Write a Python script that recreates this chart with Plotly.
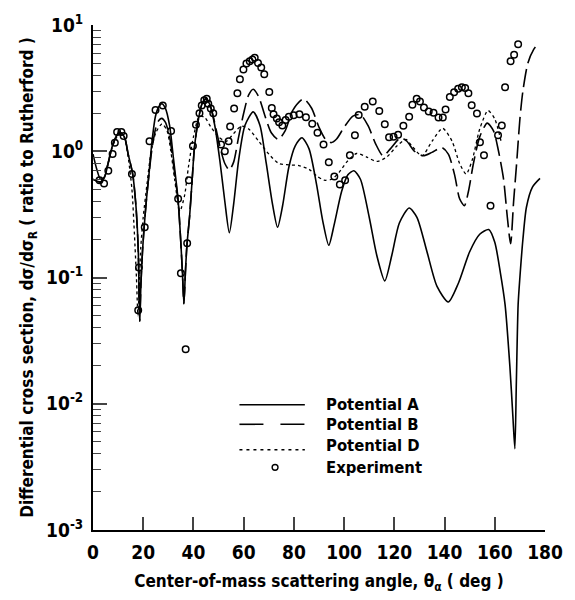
import plotly.graph_objects as go

# ---------------- data ----------------
theta_A = [0, 1.5, 3, 4.5, 6, 8, 10.5, 12.5, 14, 15.8, 17.1, 18.0, 18.6, 19.1, 19.7, 20.3, 21.3, 22.3,
           23.5, 24.9, 26.2, 27.4, 28.8, 30.5, 32, 33.9, 34.9, 35.6, 36.2, 36.8, 37.4, 38.5, 39.5, 40.4,
           42, 43.5, 45, 46.5, 48.5, 50.5, 52.5, 54.3, 56, 58, 60.5, 63.8, 66.5, 69, 71.5, 73.5, 75.5,
           78, 80.5, 83.2, 86, 89, 91.5, 93.9, 96, 99, 101.5, 103.9, 106.5, 110, 113, 116.2, 119, 122,
           125.9, 129, 133, 137, 141.5, 145.5, 150, 154, 157.6, 160, 162.2, 164.1, 166, 167.2, 168,
           168.6, 169.3, 170, 171.2, 172.6, 175, 178]
sigma_A = [0.95, 0.72, 0.6, 0.62, 0.8, 1.15, 1.42, 1.3, 0.95, 0.66, 0.37, 0.17, 0.045, 0.09, 0.16, 0.24, 0.42, 0.66,
           1.2, 1.9, 2.25, 2.38, 2.2, 1.6, 0.89, 0.41, 0.2, 0.11, 0.062, 0.11, 0.18, 0.31, 0.6, 1.07,
           1.8, 2.4, 2.6, 2.35, 1.6, 0.85, 0.4, 0.226, 0.38, 0.85, 1.6, 2.05, 1.6, 0.8, 0.38, 0.25, 0.37,
           0.75, 1.1, 1.28, 1.05, 0.55, 0.28, 0.18, 0.26, 0.48, 0.65, 0.70, 0.6, 0.3, 0.15, 0.094, 0.15, 0.27,
           0.355, 0.3, 0.16, 0.085, 0.064, 0.09, 0.16, 0.22, 0.24, 0.19, 0.11, 0.061, 0.02, 0.008, 0.0044,
           0.015, 0.061, 0.1, 0.2, 0.36, 0.52, 0.61]

theta_B = [0, 1.5, 3, 4.5, 6, 8, 10.5, 12.5, 14, 15.8, 17.1, 18.0, 18.6, 19.1, 19.7, 20.3, 21.3, 22.3,
           23.5, 24.9, 26.2, 27.4, 28.8, 30.5, 32, 33.9, 34.9, 35.6, 36.2, 36.8, 37.4, 38.5, 39.5, 40.4,
           42, 43.5, 45, 47, 49, 51, 52.5, 54.3, 56, 58, 60, 62, 63.8, 66, 68.5, 71, 73.8, 76.5, 79.5,
           83.8, 87, 90, 92.5, 94.8, 97, 100, 103.5, 106.5, 109.5, 112.5, 115.5, 118.5, 122.5, 125, 128,
           131.5, 135, 138.9, 141.5, 144, 146, 147.9, 149.5, 151.5, 154, 157, 159.5, 161.5, 163.5, 165,
           166.3, 167.5, 168.7, 170, 171.2, 173.2, 175.5, 177.7]
sigma_B = [0.6, 0.58, 0.57, 0.62, 0.8, 1.15, 1.42, 1.3, 0.95, 0.66, 0.37, 0.17, 0.045, 0.09, 0.16, 0.24, 0.42, 0.66,
           1.05, 1.5, 1.75, 1.82, 1.7, 1.3, 0.8, 0.4, 0.2, 0.11, 0.062, 0.11, 0.18, 0.31, 0.6, 1.07,
           1.8, 2.4, 2.6, 2.2, 1.5, 1.0, 0.8, 0.71, 0.82, 1.3, 2.0, 2.8, 3.1, 2.7, 1.9, 1.4, 1.24, 1.45, 2.1,
           2.6, 2.2, 1.55, 1.25, 1.17, 1.25, 1.55, 1.9, 1.95, 1.6, 1.15, 0.92, 1.05, 1.28, 1.2, 1.0,
           0.92, 0.98, 1.07, 0.95, 0.65, 0.42, 0.37, 0.48, 0.8, 1.3, 1.67, 1.45, 1.0, 0.6, 0.3,
           0.185, 0.4, 0.8, 1.8, 3.0, 5.0, 6.4, 7.3]

theta_D = [0, 1.5, 3, 4.5, 6, 8, 10.5, 12.5, 14, 15.5, 16.5, 17.3, 17.9, 18.4, 19, 20, 21.5, 23, 25,
           27.5, 29.5, 31, 32.5, 34.6, 36.5, 38, 40, 42.4, 44.5, 47, 50, 53, 56, 59, 62, 66, 70, 74,
           78, 82, 86, 89, 92, 95, 98, 101, 105, 109, 113, 117, 121, 124.6, 127, 131, 135, 139.2,
           143, 146, 148.6, 151, 154, 157.3, 160, 162.5]
sigma_D = [0.6, 0.58, 0.57, 0.62, 0.8, 1.12, 1.38, 1.28, 0.9, 0.5, 0.22, 0.1, 0.05, 0.08, 0.17, 0.3, 0.55, 0.95, 1.4,
           1.65, 1.45, 1.0, 0.6, 0.335, 0.45, 0.75, 1.3, 1.9, 1.85, 1.55, 1.3, 1.2, 1.38, 1.58, 1.5, 1.2, 0.95, 0.8,
           0.78, 0.77, 0.72, 0.64, 0.59, 0.6, 0.68, 0.82, 0.96, 0.9, 0.83, 0.9, 1.1, 1.24, 1.1, 0.92, 1.2, 1.52,
           1.2, 0.8, 0.66, 0.85, 1.5, 2.1, 1.8, 1.2]

theta_exp = [2.6, 4.4, 6.1, 7.8, 8.7, 9.6, 11.3, 12.2, 15.5, 18.0, 18.3, 20.6, 22.5, 24.9, 27.8, 31.1, 33.9,
             35.0, 36.9, 37.5, 38.2, 39.8, 41.0, 42.4, 43.3, 44.3, 45.3, 45.9, 46.9, 47.9, 51.0, 52.5, 54.0,
             54.6, 56.2, 57.5, 58.5, 59.9, 61.1, 62.4, 63.5, 64.4, 65.7, 67.0, 68.2, 70.2, 71.2, 71.9, 73.2,
             74.1, 75.4, 76.7, 78.0, 79.9, 82.2, 84.8, 87.3, 89.4, 91.8, 93.9, 96.1, 98.3, 100.4, 102.3,
             104.3, 105.8, 108.2, 111.4, 114.0, 116.2, 117.9, 119.7, 121.5, 123.6, 125.9, 127.2, 128.9,
             130.2, 131.8, 133.7, 135.6, 137.6, 139.3, 140.4, 142.1, 143.8, 145.4, 146.9, 148.2, 149.5,
             150.8, 152.9, 154.1, 155.7, 158.3, 161.3, 162.8, 164.1, 166.3, 167.7, 169.3]
sigma_exp = [0.59, 0.555, 0.70, 0.95, 1.17, 1.42, 1.42, 1.32, 0.66, 0.055, 0.12, 0.25, 1.2, 2.12, 2.3, 1.45, 0.42,
             0.108, 0.027, 0.187, 0.59, 1.1, 1.62, 2.0, 2.3, 2.53, 2.6, 2.38, 2.18, 2.0, 1.13, 1.0, 1.2,
             1.57, 2.18, 2.88, 3.72, 4.45, 4.96, 5.17, 5.32, 5.5, 5.0, 4.6, 4.08, 2.94, 2.2, 1.96, 1.82,
             1.7, 1.6, 1.77, 1.88, 1.93, 1.96, 1.86, 1.65, 1.4, 1.13, 0.82, 0.63, 0.545, 0.59, 0.93,
             1.34, 1.94, 2.25, 2.48, 2.08, 1.64, 1.29, 1.3, 1.35, 1.59, 1.88, 2.34, 2.6,
             2.48, 2.22, 2.06, 2.02, 1.85, 1.85, 2.14, 2.69, 2.93, 3.12, 3.21, 3.17, 2.88,
             2.31, 1.99, 1.18, 0.93, 0.37, 1.34, 1.6, 3.21, 5.17, 5.82, 7.05]

x_ticks = [0, 20, 40, 60, 80, 100, 120, 140, 160, 180]
y_ticks = [1e-3, 1e-2, 1e-1, 1, 10]
y_ticktext = ["10<sup>-3</sup>", "10<sup>-2</sup>", "10<sup>-1</sup>", "10<sup>0</sup>", "10<sup>1</sup>"]
legend_names = ["Potential A", "Potential B", "Potential D", "Experiment"]

# ---------------- figure ----------------
FONT = "DejaVu Sans Condensed, Liberation Sans Narrow, DejaVu Sans, sans-serif"
fig = go.Figure()

fig.add_trace(go.Scatter(x=theta_A, y=sigma_A, mode="lines", name=legend_names[0],
                         line=dict(color="black", width=1.6, shape="spline", smoothing=0.7)))
fig.add_trace(go.Scatter(x=theta_B, y=sigma_B, mode="lines", name=legend_names[1],
                         line=dict(color="black", width=1.6, dash="18px,6px", shape="spline", smoothing=0.7)))
fig.add_trace(go.Scatter(x=theta_D, y=sigma_D, mode="lines", name=legend_names[2],
                         line=dict(color="black", width=1.3, dash="3px,3px", shape="spline", smoothing=0.7)))
fig.add_trace(go.Scatter(x=theta_exp, y=sigma_exp, mode="markers", name=legend_names[3],
                         marker=dict(symbol="circle-open", size=6.5, color="black", line=dict(width=1.5))))

minor_vals = [k * 10.0 ** n for n in range(-3, 1) for k in range(2, 10)]

fig.update_layout(
    width=575, height=600,
    margin=dict(l=93, r=19, t=15, b=69),
    paper_bgcolor="white", plot_bgcolor="white",
    showlegend=False,
    font=dict(family=FONT, color="black", size=17, weight="bold"),
    xaxis=dict(range=[0, 180], tickvals=x_ticks, ticks="inside", ticklen=13, tickwidth=1.5,
               showline=True, linecolor="black", linewidth=1.5, showgrid=False, zeroline=False,
               tickfont=dict(size=19, family=FONT, weight="bold"), ticklabelstandoff=4,
               title=dict(text="Center-of-mass scattering angle, θ<sub>α</sub> ( deg )",
                          font=dict(size=17, family=FONT, weight="bold"), standoff=14)),
    yaxis=dict(type="log", range=[-3, 1], tickvals=y_ticks, ticktext=y_ticktext,
               ticks="inside", ticklen=14, tickwidth=1.5,
               minor=dict(ticks="inside", ticklen=8, tickwidth=1.3, tickvals=minor_vals, showgrid=False),
               showline=True, linecolor="black", linewidth=2, showgrid=False, zeroline=False,
               tickfont=dict(size=19, family=FONT, weight="bold"), ticklabelstandoff=4,
               title=dict(text="Differential cross section, dσ/dσ<sub>R</sub> ( ratio to Rutherford )",
                          font=dict(size=17, family=FONT, weight="bold"), standoff=8)),
)

# ---------------- manual legend ----------------
def px(xp):
    return (xp - 93) / 463.0
def py(yp):
    return (531 - yp) / 516.0

rows = [403, 423, 445, 467]
line_rows = [403, 423, 449]
dashes = ["solid", "24px,17px", "3px,4px"]
for i in range(3):
    fig.add_shape(type="line", xref="paper", yref="paper",
                  x0=px(243), x1=px(310), y0=py(line_rows[i]), y1=py(line_rows[i]),
                  line=dict(color="black", width=1.6, dash=dashes[i]))
fig.add_shape(type="circle", xref="paper", yref="paper",
              x0=px(276.5), x1=px(282.5), y0=py(464), y1=py(470),
              line=dict(color="black", width=1.4))
for i, name in enumerate(legend_names):
    fig.add_annotation(text=name, xref="paper", yref="paper", x=px(330), y=py(rows[i]),
                       xanchor="left", yanchor="middle", showarrow=False,
                       font=dict(size=16.5, family=FONT, color="black", weight="bold"))

fig.write_html("out.html")
